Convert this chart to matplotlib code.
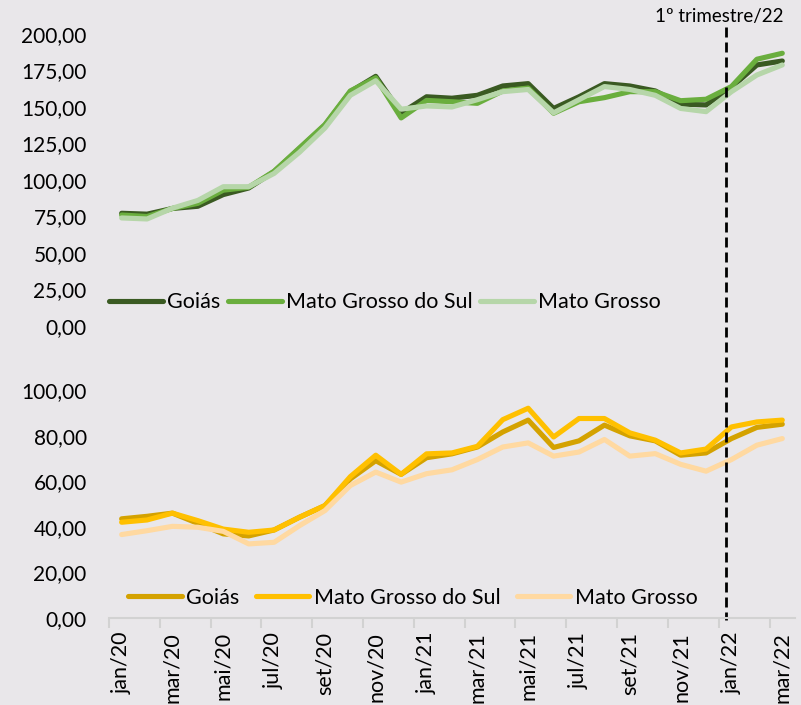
import matplotlib
matplotlib.use("Agg")
import matplotlib.pyplot as plt
import matplotlib.transforms as mtransforms

plt.rcParams['font.family'] = ['Lato', 'DejaVu Sans']

meses = ["jan/20", "fev/20", "mar/20", "abr/20", "mai/20", "jun/20", "jul/20", "ago/20",
         "set/20", "out/20", "nov/20", "dez/20", "jan/21", "fev/21", "mar/21", "abr/21",
         "mai/21", "jun/21", "jul/21", "ago/21", "set/21", "out/21", "nov/21", "dez/21",
         "jan/22", "fev/22", "mar/22"]

# painel de cima
goias_top = [77.2, 76.6, 80.5, 82, 90, 94.5, 105.7, 121.5, 137.5, 160.5, 171, 145.8, 157, 156,
             158, 164.4, 166, 149, 157, 166, 164.4, 161, 152, 151.4, 163.5, 178.8, 181.5]
ms_top = [76, 75, 80.5, 84, 93, 95, 106, 122, 138, 161, 170, 142.5, 154.5, 153.6,
          152.5, 161, 163, 145.7, 153.6, 156.4, 160.5, 160.5, 154.3, 155.3, 164, 182.7, 186.8]
mt_top = [74, 73.3, 80.7, 86, 95.4, 95.4, 104.5, 119, 135.6, 158, 168, 148.5, 150.7, 150,
          155, 160.5, 162, 146, 155, 164, 162, 158, 149, 146.8, 160.5, 171.9, 178.8]

# painel de baixo
goias_bot = [43.5, 44.6, 46, 41.5, 36.9, 36, 38.6, 44.2, 49.3, 61, 69, 63, 70.3, 72, 75,
             81.6, 86.8, 74.8, 77.7, 84.6, 79.9, 77.7, 71.4, 72.4, 78.7, 83.6, 85]
ms_bot = [42, 43, 46, 42.7, 39, 37.6, 38.6, 44.2, 49.3, 62, 71.4, 63, 72, 72.4, 75.3,
          87, 92, 79.4, 87.5, 87.5, 81.2, 78, 72.4, 74.1, 83.8, 86, 86.8]
mt_bot = [36.6, 38.3, 40.2, 39.8, 38, 32.5, 33.2, 40.5, 47.1, 58.1, 64, 59.6, 63.3, 65,
          69.5, 75, 76.8, 71, 72.8, 78.3, 71, 72.1, 67.4, 64.4, 69.5, 75.8, 78.7]

yt_top = [0, 25, 50, 75, 100, 125, 150, 175, 200]
yt_bot = [0, 20, 40, 60, 80, 100]

bg = '#E9E7EA'
fig = plt.figure(figsize=(8.01, 7.05), dpi=100, facecolor=bg)
ax1 = fig.add_axes([0.136, 0.5376, 0.8565, 0.4142])
ax2 = fig.add_axes([0.136, 0.1234, 0.8565, 0.3234])

x = list(range(len(meses)))
lw = 3.7

ax1.plot(x, goias_top, color='#3A5A22', lw=lw, label='Goiás', solid_capstyle='round')
ax1.plot(x, ms_top, color='#6AAE3E', lw=lw, label='Mato Grosso do Sul', solid_capstyle='round')
ax1.plot(x, mt_top, color='#B6D6A9', lw=lw, label='Mato Grosso', solid_capstyle='round')

ax2.plot(x, goias_bot, color='#D4A200', lw=lw, label='Goiás', solid_capstyle='round')
ax2.plot(x, ms_bot, color='#FFC000', lw=lw, label='Mato Grosso do Sul', solid_capstyle='round')
ax2.plot(x, mt_bot, color='#FFD9A1', lw=lw, label='Mato Grosso', solid_capstyle='round')

for ax, yt in ((ax1, yt_top), (ax2, yt_bot)):
    ax.set_facecolor(bg)
    ax.set_xlim(-0.5, len(meses) - 0.5)
    ax.set_ylim(yt[0], yt[-1])
    ax.set_yticks(yt)
    ax.set_yticklabels([f"{v:.2f}".replace('.', ',') for v in yt])
    ax.tick_params(axis='y', length=0, pad=16, labelsize=15)
    for s in ax.spines.values():
        s.set_visible(False)

ax1.set_xticks([])

ax2.spines['bottom'].set_visible(True)
ax2.spines['bottom'].set_color('#D2D2D2')
ax2.spines['bottom'].set_linewidth(1.5)
ax2.set_xticks(x[::2])
ax2.set_xticklabels(meses[::2], rotation=90)
ax2.set_xticks([i - 0.5 for i in x[::2]], minor=True)
ax2.tick_params(axis='x', which='major', length=0, pad=10, labelsize=15.5)
ax2.tick_params(axis='x', which='minor', length=7, width=1.5, color='#D2D2D2')

ax1.legend(loc='center left', bbox_to_anchor=(0.0, 0.082), ncol=3, frameon=False,
           fontsize=15.5, handlelength=2.5, handletextpad=0.2, columnspacing=0.35,
           borderaxespad=0, borderpad=0)
ax2.legend(loc='center left', bbox_to_anchor=(0.028, 0.088), ncol=3, frameon=False,
           fontsize=15.5, handlelength=2.5, handletextpad=0.2, columnspacing=0.75,
           borderaxespad=0, borderpad=0)

# linha tracejada do 1º trimestre/22
tr = mtransforms.blended_transform_factory(ax2.transData, fig.transFigure)
ax2.plot([23.78, 23.78], [0.962, 0.12], transform=tr, color='black', lw=2,
         dashes=(3.6, 1.8), clip_on=False)
ax2.text(23.5, 0.976, '1º trimestre/22', transform=tr, ha='center', va='center', fontsize=13.5)

fig.savefig('out.png', dpi=100, facecolor=bg)
